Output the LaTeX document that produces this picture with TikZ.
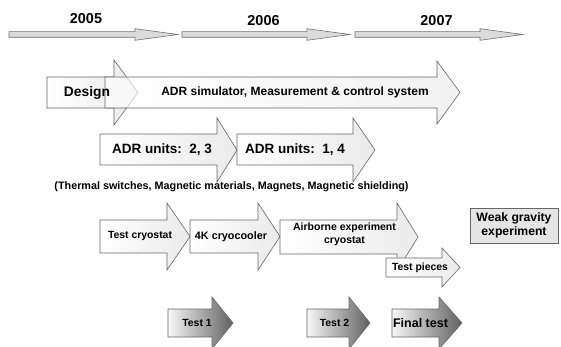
\documentclass[tikz,border=0pt]{standalone}
\usepackage{fontspec}
\setmainfont{Liberation Sans}
\begin{document}
\begin{tikzpicture}[x=1pt,y=-1pt,
  timeline/.style={fill=black!14,draw=black!55,line width=0.6pt},
  lightarrow/.style={left color=white,right color=black!8,draw=black!60,line width=0.6pt},
  testarrow/.style={left color=black!3,right color=black!62,draw=black!60,line width=0.6pt},
  lbl/.style={font=\bfseries,inner sep=0pt,align=center},
  box/.style={fill=black!10,draw=black!60,line width=0.6pt}]
\newcommand\arrowshape[8]{%
  \path[#1] (#2,#5) -- (#3,#5) -- (#3,#7) -- (#4,{(#7+#8)/2}) -- (#3,#8) -- (#3,#6) -- (#2,#6) -- cycle;}
\useasboundingbox (0,0) rectangle (561,347);
% timeline
\arrowshape{timeline}{9}{135}{178}{31.7}{37.3}{28.7}{40.3}
\arrowshape{timeline}{182}{307}{350}{31.7}{37.3}{28.7}{40.3}
\arrowshape{timeline}{355}{480}{523}{31.7}{37.3}{28.7}{40.3}
\node[lbl,font=\bfseries\fontsize{14.4}{16}\selectfont] (y5) at (86,18.5) {2005};
\node[lbl,font=\bfseries\fontsize{14.4}{16}\selectfont] (y6) at (263.5,20.5) {2006};
\node[lbl,font=\bfseries\fontsize{14.4}{16}\selectfont] (y7) at (436.5,20.5) {2007};
% design & simulator
\arrowshape{lightarrow}{47}{114}{138}{77}{108}{60}{125}
\arrowshape{lightarrow,fill opacity=0.65}{105}{437}{460}{77}{108}{61}{124}
\node[lbl,font=\bfseries\fontsize{13.8}{16}\selectfont] (design) at (87,92.5) {Design};
\node[lbl,font=\bfseries\fontsize{12}{14}\selectfont] (sim) at (295,92.5) {ADR simulator, Measurement \& control system};
% ADR units
\arrowshape{lightarrow}{100}{217}{237}{134}{165}{118}{182}
\arrowshape{lightarrow}{237}{353}{375}{134}{165}{118}{182}
\node[lbl,font=\bfseries\fontsize{13.5}{16}\selectfont] (u23) at (162,150) {ADR units:\ \ 2, 3};
\node[lbl,font=\bfseries\fontsize{13.5}{16}\selectfont] (u14) at (295,150) {ADR units:\ \ 1, 4};
\node[lbl,font=\bfseries\fontsize{10.8}{13}\selectfont] (therm) at (231.5,187) {(Thermal switches, Magnetic materials, Magnets, Magnetic shielding)};
% cryostats
\arrowshape{lightarrow}{100}{167}{190}{220}{253}{203}{270}
\arrowshape{lightarrow}{190}{258}{280}{220}{253}{203}{270}
\arrowshape{lightarrow}{280}{397}{418}{220}{254}{203}{271}
\arrowshape{lightarrow}{386}{442}{460}{258}{277}{248}{287}
\node[lbl,font=\bfseries\fontsize{10.4}{12}\selectfont] (tc) at (140,236.5) {Test cryostat};
\node[lbl,font=\bfseries\fontsize{10.8}{12}\selectfont] (cc) at (231,236.5) {4K cryocooler};
\node[lbl,font=\bfseries\fontsize{10.5}{13}\selectfont] (air) at (344.5,234) {Airborne experiment\\cryostat};
\node[lbl,font=\bfseries\fontsize{10.4}{12}\selectfont] (tp) at (420,267.5) {Test pieces};
% weak gravity
\node[box,minimum width=88pt,minimum height=35pt,inner sep=0pt] (wg) at (514,225.5) {};
\node[lbl,font=\bfseries\fontsize{12.2}{14.5}\selectfont] (wgt) at (wg.center) {Weak gravity\\experiment};
% tests
\arrowshape{testarrow}{168}{212}{233}{309}{337}{297}{349}
\arrowshape{testarrow}{307}{349}{370}{309}{337}{297}{349}
\arrowshape{testarrow}{392}{439}{462}{309}{337}{297}{349}
\node[lbl,font=\bfseries\fontsize{10.4}{12}\selectfont] (t1) at (197,323) {Test 1};
\node[lbl,font=\bfseries\fontsize{10.4}{12}\selectfont] (t2) at (334.5,323) {Test 2};
\node[lbl,font=\bfseries\fontsize{12.5}{14}\selectfont] (ft) at (420.5,323) {Final test};
\end{tikzpicture}
\end{document}
